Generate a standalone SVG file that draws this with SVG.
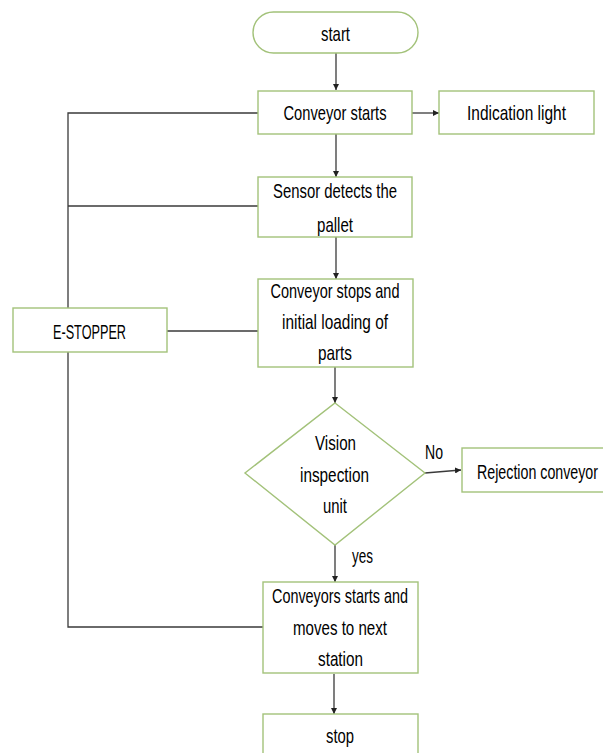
<svg xmlns="http://www.w3.org/2000/svg" width="603" height="753" viewBox="0 0 603 753">
<defs>
<style>
.box{fill:#fff;stroke:#a3c27a;stroke-width:1.4}
.ln{fill:none;stroke:#3a3a3a;stroke-width:1.3}
.t{font-family:"Liberation Sans",Arial,sans-serif;font-size:21px;fill:#000;text-anchor:middle}
</style>
<marker id="ah" viewBox="0 0 10 10" refX="10" refY="5" markerWidth="6" markerHeight="6" orient="auto" markerUnits="userSpaceOnUse">
<path d="M0,0 L10,5 L0,10 z" fill="#222"/>
</marker>
</defs>
<rect width="603" height="753" fill="#fff"/>
<g id="connectors">
<line class="ln" x1="336" y1="53" x2="336" y2="90" marker-end="url(#ah)"/>
<line class="ln" x1="412" y1="113" x2="439" y2="113" marker-end="url(#ah)"/>
<line class="ln" x1="336" y1="134" x2="336" y2="177" marker-end="url(#ah)"/>
<line class="ln" x1="336" y1="237" x2="336" y2="279" marker-end="url(#ah)"/>
<line class="ln" x1="335" y1="367" x2="335" y2="403" marker-end="url(#ah)"/>
<line class="ln" x1="425" y1="473" x2="461" y2="470" marker-end="url(#ah)"/>
<line class="ln" x1="335" y1="545" x2="335" y2="582" marker-end="url(#ah)"/>
<line class="ln" x1="334" y1="674" x2="334" y2="714" marker-end="url(#ah)"/>
<polyline class="ln" points="258,113 68,113 68,308"/>
<line class="ln" x1="68" y1="206" x2="258" y2="206"/>
<line class="ln" x1="167" y1="331" x2="258" y2="331"/>
<polyline class="ln" points="68,352 68,627 263,627"/>
</g>
<g id="start">
<rect class="box" x="253" y="12" width="165" height="41" rx="20.5"/>
<text class="t" x="335.5" y="41" textLength="29" lengthAdjust="spacingAndGlyphs">start</text>
</g>
<g id="conveyor-starts">
<rect class="box" x="258" y="91" width="154" height="43"/>
<text class="t" x="335" y="120" textLength="103" lengthAdjust="spacingAndGlyphs">Conveyor starts</text>
</g>
<g id="indication-light">
<rect class="box" x="439" y="91" width="155" height="43"/>
<text class="t" x="516.5" y="120" textLength="99" lengthAdjust="spacingAndGlyphs">Indication light</text>
</g>
<g id="sensor">
<rect class="box" x="258" y="177" width="154" height="60"/>
<text class="t" x="335" y="198" textLength="124" lengthAdjust="spacingAndGlyphs">Sensor detects the</text>
<text class="t" x="335" y="232" textLength="36" lengthAdjust="spacingAndGlyphs">pallet</text>
</g>
<g id="conveyor-stops">
<rect class="box" x="258" y="279" width="155" height="88"/>
<text class="t" x="335" y="298" textLength="129" lengthAdjust="spacingAndGlyphs">Conveyor stops and</text>
<text class="t" x="335" y="329" textLength="106" lengthAdjust="spacingAndGlyphs">initial loading of</text>
<text class="t" x="335" y="360" textLength="34" lengthAdjust="spacingAndGlyphs">parts</text>
</g>
<g id="e-stopper">
<rect class="box" x="13" y="308" width="154" height="44"/>
<text class="t" x="89.5" y="339" textLength="73" lengthAdjust="spacingAndGlyphs">E-STOPPER</text>
</g>
<g id="vision">
<polygon class="box" points="335,403 425,473 335,545 245,473"/>
<text class="t" x="335.5" y="450" textLength="41" lengthAdjust="spacingAndGlyphs">Vision</text>
<text class="t" x="334.5" y="482" textLength="69" lengthAdjust="spacingAndGlyphs">inspection</text>
<text class="t" x="335" y="513" textLength="24" lengthAdjust="spacingAndGlyphs">unit</text>
</g>
<g id="labels">
<text class="t" x="434" y="459" textLength="18" lengthAdjust="spacingAndGlyphs">No</text>
<text class="t" x="362.5" y="563" textLength="21" lengthAdjust="spacingAndGlyphs">yes</text>
</g>
<g id="rejection">
<rect class="box" x="462" y="448" width="145" height="44"/>
<text class="t" x="537.5" y="479" textLength="121" lengthAdjust="spacingAndGlyphs">Rejection conveyor</text>
</g>
<g id="conveyors-next">
<rect class="box" x="263" y="582" width="155" height="91"/>
<text class="t" x="340" y="603" textLength="136" lengthAdjust="spacingAndGlyphs">Conveyors starts and</text>
<text class="t" x="340" y="635" textLength="94" lengthAdjust="spacingAndGlyphs">moves to next</text>
<text class="t" x="340.5" y="666" textLength="45" lengthAdjust="spacingAndGlyphs">station</text>
</g>
<g id="stop">
<rect class="box" x="263" y="714" width="155" height="50"/>
<text class="t" x="340" y="743" textLength="28" lengthAdjust="spacingAndGlyphs">stop</text>
</g>
</svg>
